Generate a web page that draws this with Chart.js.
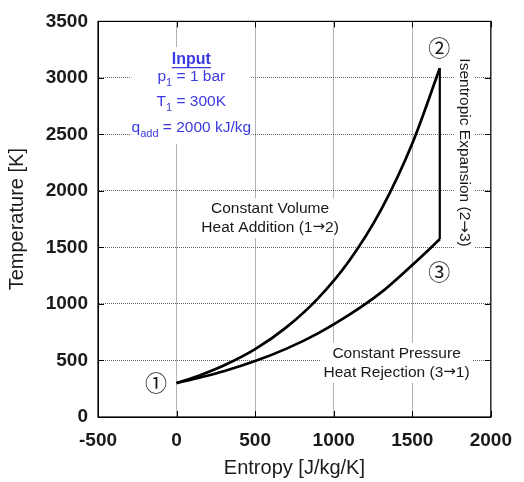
<!DOCTYPE html>
<html>
<head>
<meta charset="utf-8">
<script src="https://cdn.jsdelivr.net/npm/chart.js@4"></script>
<style>
  html, body { margin: 0; padding: 0; background: #fff; }
  #wrap { width: 524px; height: 482px; }
</style>
</head>
<body>
<div id="wrap"><canvas id="chartTS"></canvas></div>
<script>
// ── Values ────────────────────────────────────
const X_TICKS = [-500, 0, 500, 1000, 1500, 2000];
const Y_TICKS = [0, 500, 1000, 1500, 2000, 2500, 3000, 3500];

// 1 → 2  constant volume heat addition
const volS = [0, 150, 300, 500, 700, 900, 1100, 1300, 1500, 1675];
const volT = [300, 370, 455, 600, 795, 1050, 1385, 1830, 2420, 3085];

// 2 → 3  isentropic expansion
const isoS = [1675, 1675];
const isoT = [3085, 1572];

// 3 → 1  constant pressure heat rejection
const presS = [0, 150, 300, 500, 700, 900, 1100, 1300, 1500, 1675];
const presT = [300, 350, 405, 495, 605, 740, 905, 1100, 1345, 1572];

// ── Annotations (data coords) ─────────────────
const STATES = [
  { text: '①', s: -131, t: 300 },
  { text: '②', s: 1671, t: 3272 },
  { text: '③', s: 1671, t: 1284 },
];
const NOTES = [
  { lines: ['Constant Volume', 'Heat Addition (1→2)'], s: 595, t: 1760 },
  { lines: ['Constant Pressure', 'Heat Rejection (3→1)'], s: 1400, t: 480 },
];
const INPUT_LINES = [
  { t: 3166, segs: [['Input', 'head']] },
  { t: 3008, segs: [['p', ''], ['1', 'sub'], [' = 1 bar', '']] },
  { t: 2788, segs: [['T', ''], ['1', 'sub'], [' = 300K', '']] },
  { t: 2559, segs: [['q', ''], ['add', 'sub'], [' = 2000 kJ/kg', '']] },
];
const INPUT_S = 94;
const SIDE_NOTE = { text: 'Isentropic Expansion (2→3)', s: 1830, t: 2340 };

const FONT   = '"Liberation Sans", Arial, sans-serif';
const BLUE   = '#3a3ae0';
const INK    = '#1a1a1a';
const toPts  = (xs, ys) => xs.map((x, i) => ({ x, y: ys[i] }));

// ── Text helpers ──────────────────────────────
function fontOf(k) {
  if (k === 'sub')   return `11px ${FONT}`;
  if (k === 'head')  return `bold 16px ${FONT}`;
  if (k === 'arrow') return `15px "DejaVu Sans", ${FONT}`;
  return `15.5px ${FONT}`;
}

// split plain text so the arrow gets a wider glyph
const withArrows = s => s.split(/(→)/).filter(Boolean).map(p => [p, p === '→' ? 'arrow' : '']);

function richWidth(ctx, segs) {
  return segs.reduce((w, [txt, k]) => { ctx.font = fontOf(k); return w + ctx.measureText(txt).width; }, 0);
}

function drawRich(ctx, segs, cx, cy) {
  let x = cx - richWidth(ctx, segs) / 2;
  segs.forEach(([txt, k]) => {
    ctx.font = fontOf(k);
    const w = ctx.measureText(txt).width;
    ctx.fillText(txt, x, k === 'sub' ? cy + 6 : cy);
    if (k === 'head') {
      ctx.beginPath();
      ctx.lineWidth = 1.3;
      ctx.strokeStyle = BLUE;
      ctx.moveTo(x, cy + 8.5);
      ctx.lineTo(x + w, cy + 8.5);
      ctx.stroke();
    }
    x += w;
  });
}

const annotations = {
  id: 'annotations',
  beforeDatasetsDraw(chart) {
    const { ctx, scales: { x, y } } = chart;
    ctx.save();
    ctx.textBaseline = 'middle';
    ctx.textAlign = 'left';

    // Input block
    const cx = x.getPixelForValue(INPUT_S);
    const top = y.getPixelForValue(INPUT_LINES[0].t) - 12;
    const bot = y.getPixelForValue(INPUT_LINES[INPUT_LINES.length - 1].t) + 16;
    ctx.fillStyle = '#fff';
    ctx.fillRect(cx - 60, top, 120, bot - top);
    ctx.fillStyle = BLUE;
    INPUT_LINES.forEach(l => drawRich(ctx, l.segs, cx, y.getPixelForValue(l.t)));

    // Process notes
    NOTES.forEach(n => {
      const px = x.getPixelForValue(n.s);
      const py = y.getPixelForValue(n.t);
      const lh = 19;
      const segs = n.lines.map(withArrows);
      const w  = Math.max(...segs.map(sg => richWidth(ctx, sg)));
      const h  = n.lines.length * lh;
      ctx.fillStyle = '#fff';
      ctx.fillRect(px - w / 2 - 3, py - h / 2 - 1, w + 6, h + 2);
      ctx.fillStyle = INK;
      segs.forEach((sg, i) => drawRich(ctx, sg, px, py - h / 2 + lh / 2 + i * lh));
    });

    // Rotated side note
    const sx = x.getPixelForValue(SIDE_NOTE.s);
    const sy = y.getPixelForValue(SIDE_NOTE.t);
    const ss = withArrows(SIDE_NOTE.text);
    const sw = richWidth(ctx, ss);
    ctx.translate(sx, sy);
    ctx.rotate(Math.PI / 2);
    ctx.fillStyle = '#fff';
    ctx.fillRect(-sw / 2 - 3, -10, sw + 6, 20);
    ctx.fillStyle = INK;
    drawRich(ctx, ss, 0, 0);
    ctx.restore();
  },
  afterDatasetsDraw(chart) {
    const { ctx, scales: { x, y } } = chart;
    ctx.save();
    ctx.font = `22px "Noto Sans CJK JP", ${FONT}`;
    ctx.textAlign = 'center';
    ctx.textBaseline = 'middle';
    ctx.fillStyle = INK;
    STATES.forEach(p => ctx.fillText(p.text, x.getPixelForValue(p.s), y.getPixelForValue(p.t)));
    ctx.restore();
  },
  afterDraw(chart) {
    // frame + inward tick marks on all four sides
    const { ctx, chartArea: a, scales: { x, y } } = chart;
    ctx.save();
    ctx.strokeStyle = '#000';
    ctx.lineWidth = 1;
    ctx.beginPath();
    X_TICKS.forEach(v => {
      const px = Math.round(x.getPixelForValue(v)) + 0.5;
      ctx.moveTo(px, a.bottom); ctx.lineTo(px, a.bottom - 6);
      ctx.moveTo(px, a.top);    ctx.lineTo(px, a.top + 6);
    });
    Y_TICKS.forEach(v => {
      const py = Math.round(y.getPixelForValue(v)) + 0.5;
      ctx.moveTo(a.left, py);  ctx.lineTo(a.left + 6, py);
      ctx.moveTo(a.right, py); ctx.lineTo(a.right - 6, py);
    });
    ctx.stroke();
    ctx.lineWidth = 1.2;
    ctx.strokeRect(a.left, a.top, a.right - a.left, a.bottom - a.top);
    ctx.restore();
  },
};

// ── Chart ─────────────────────────────────────
const curve = (pts, w) => ({
  data: pts,
  showLine: true,
  borderColor: '#000',
  borderWidth: w,
  pointRadius: 0,
  cubicInterpolationMode: 'monotone',
  fill: false,
});

const GRID   = { color: '#666', lineWidth: 1, drawTicks: false };
const BORDER = { color: '#000', width: 1, dash: [1, 1] };
const TICK_FONT = { family: FONT, size: 19, weight: 'bold' };

new Chart(document.getElementById('chartTS'), {
  type: 'scatter',
  data: {
    datasets: [
      curve(toPts(volS, volT), 2.7),
      curve(toPts(isoS, isoT), 2.2),
      curve(toPts(presS, presT), 2.7),
    ],
  },
  options: {
    responsive: true,
    maintainAspectRatio: false,
    animation: false,
    layout: { padding: { left: 0, right: 25, top: 19, bottom: 0 } },
    plugins: { legend: { display: false }, tooltip: { enabled: false } },
    scales: {
      x: {
        type: 'linear',
        min: -500, max: 2000,
        afterBuildTicks: s => { s.ticks = X_TICKS.map(v => ({ value: v })); },
        afterFit: s => { s.height = 65; },
        grid: GRID,
        border: BORDER,
        ticks: { font: TICK_FONT, color: INK, padding: 12, maxRotation: 0, callback: v => String(v) },
        title: { display: true, text: 'Entropy [J/kg/K]', font: { family: FONT, size: 20 }, color: INK, padding: { bottom: 2, top: 0 } },
      },
      y: {
        type: 'linear',
        min: 0, max: 3500,
        afterBuildTicks: s => { s.ticks = Y_TICKS.map(v => ({ value: v })); },
        afterFit: s => { s.width = 98; },
        grid: GRID,
        border: BORDER,
        ticks: { font: TICK_FONT, color: INK, padding: 10, callback: v => String(v) },
        title: { display: true, text: 'Temperature [K]', font: { family: FONT, size: 20 }, color: INK, padding: { top: 5, bottom: 0 } },
      },
    },
  },
  plugins: [annotations],
});
</script>
</body>
</html>
